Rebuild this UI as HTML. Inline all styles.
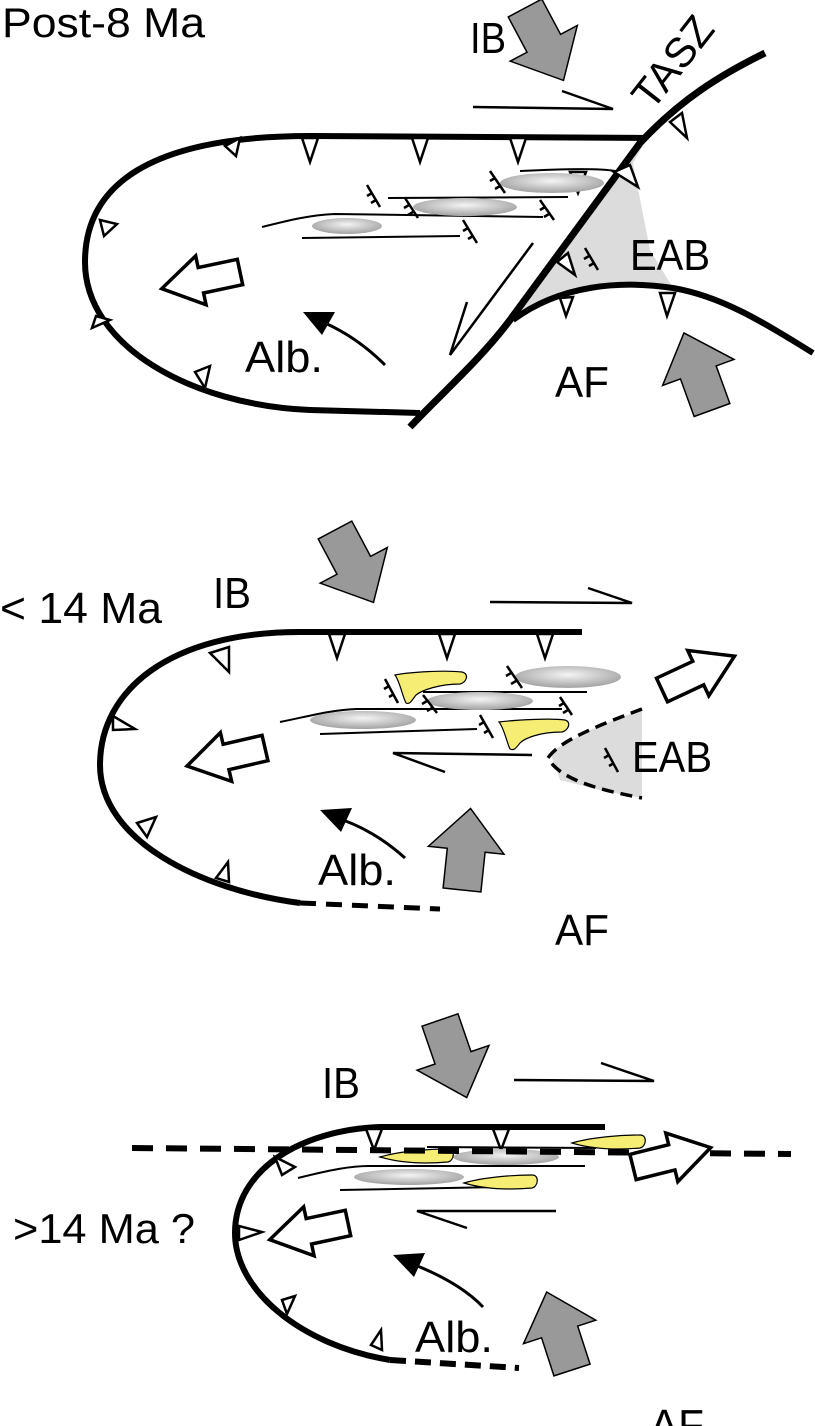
<!DOCTYPE html>
<html><head><meta charset="utf-8"><style>
html,body{margin:0;padding:0;background:#fff}
svg{display:block}
text{font-family:"Liberation Sans",sans-serif;fill:#000}
</style></head><body>
<svg width="815" height="1426" viewBox="0 0 815 1426" xmlns="http://www.w3.org/2000/svg">
<defs>
<radialGradient id="eg" cx="50%" cy="40%" r="55%"><stop offset="0" stop-color="#f4f4f4"/><stop offset="1" stop-color="#a8a8a8"/></radialGradient>
<polygon id="ga" points="0,-19 40,-19 40,-38 82,0 40,38 40,19 0,19" fill="#999" stroke="#000" stroke-width="1.5"/>
<polygon id="ha" points="0,-13 40,-13 40,-25 80,0 40,25 40,13 0,13" fill="#fff" stroke="#000" stroke-width="3.5"/>
<path id="yb" d="M0,2 C20,-4 50,-6 68,-6 C76,-6 74,6 68,7 C45,9 20,8 0,2Z" fill="#f6ee74" stroke="#000" stroke-width="1.2"/>
</defs>

<!-- ================= TOP PANEL ================= -->
<text x="2" y="37" font-size="42" textLength="203" lengthAdjust="spacingAndGlyphs">Post-8 Ma</text>
<text x="470" y="53" font-size="44" textLength="36" lengthAdjust="spacingAndGlyphs">IB</text>
<text x="0" y="0" font-size="42" transform="translate(652,112) rotate(-52)">TASZ</text>

<polygon points="645,142 513,320 560,292 600,287 673,288 650,250 633,163" fill="#dcdcdc"/>
<path d="M647,138 L310,136 C150,136 85,185 85,262 C85,345 190,405 310,410 L420,413" fill="none" stroke="#000" stroke-width="6"/>
<path d="M410,427 C440,395 480,360 510,320 L640,143 C680,100 720,75 765,53" fill="none" stroke="#000" stroke-width="7"/>
<path d="M513,320 C560,285 620,280 673,288 C720,296 760,320 813,353" fill="none" stroke="#000" stroke-width="6"/>

<g fill="#fff" stroke="#000" stroke-width="2.5">
<polygon points="302,138 318,138 310,162"/><polygon points="412,138 428,138 420,162"/><polygon points="510,138 526,138 518,162"/>
<polygon points="570,172 586,172 578,193"/>
<polygon points="225,146 236,156 240,138"/><polygon points="100,220 117,224 104,236"/><polygon points="110,320 96,316 92,328"/>
<polygon points="195,372 210,366 205,388"/>
<polygon points="614,172 630,165 638,187"/><polygon points="670,122 682,113 687,138"/>
<polygon points="557,262 568,253 575,275"/><polygon points="560,298 573,297 566,316"/><polygon points="660,293 675,293 667,316"/>
</g>
<g fill="none" stroke="#000" stroke-width="2">
<path d="M262,227 C290,220 310,215 335,214 L543,217"/>
<path d="M302,238 L460,236"/>
<path d="M388,198 L568,197"/>
<path d="M520,171 C560,169 600,168 615,171"/>
</g>
<ellipse cx="347" cy="226" rx="35" ry="8" fill="url(#eg)"/>
<ellipse cx="465" cy="207" rx="52" ry="9" fill="url(#eg)"/>
<ellipse cx="552" cy="183" rx="52" ry="10" fill="url(#eg)"/>
<g stroke="#000" stroke-width="2.5" fill="none">
<path d="M367,185 L380,207 M372,193 l-5,3 M376,200 l-5,3"/>
<path d="M405,198 L418,218 M409,205 l-5,3 M413,212 l-5,3"/>
<path d="M490,171 L505,193 M495,178 l-5,3 M500,186 l-5,3"/>
<path d="M540,200 L554,220 M545,207 l-5,3 M549,214 l-5,3"/>
<path d="M463,220 L477,243 M468,228 l-5,3 M473,236 l-5,3"/>
<path d="M585,248 L598,270 M589,256 l-5,3 M594,263 l-5,3"/>
</g>
<g stroke="#000" stroke-width="2.5" fill="none">
<path d="M473,107 L613,109 L562,91"/>
<path d="M533,243 L450,355 L467,302"/>
</g>
<text x="630" y="270" font-size="44" textLength="80" lengthAdjust="spacingAndGlyphs">EAB</text>
<text x="245" y="372" font-size="44" textLength="78" lengthAdjust="spacingAndGlyphs">Alb.</text>
<text x="555" y="397" font-size="44" textLength="54" lengthAdjust="spacingAndGlyphs">AF</text>
<path d="M385,365 C365,345 345,332 325,323" fill="none" stroke="#000" stroke-width="3"/>
<polygon points="303,312 335,312 322,335" fill="#000"/>
<use href="#ga" transform="translate(525,8) rotate(62)"/>
<use href="#ga" transform="translate(712,410) rotate(-110)"/>
<use href="#ha" transform="translate(240,272) rotate(168)"/>

<!-- ================= MIDDLE PANEL ================= -->
<text x="0" y="623" font-size="44" textLength="162" lengthAdjust="spacingAndGlyphs">&lt; 14 Ma</text>
<text x="213" y="608" font-size="44" textLength="38" lengthAdjust="spacingAndGlyphs">IB</text>
<polygon points="642,709 590,730 550,752 560,780 600,790 642,798" fill="#dcdcdc"/>
<path d="M642,709 C600,725 560,740 548,758 C560,780 600,790 642,798" fill="none" stroke="#000" stroke-width="3.5" stroke-dasharray="12,7"/>
<path d="M582,632 L300,632 C170,632 100,690 100,765 C100,840 200,890 300,903" fill="none" stroke="#000" stroke-width="6"/>
<path d="M300,903 L440,909" fill="none" stroke="#000" stroke-width="5" stroke-dasharray="16,10"/>
<g fill="#fff" stroke="#000" stroke-width="2.5">
<polygon points="329,634 345,634 337,658"/><polygon points="439,634 455,634 447,658"/><polygon points="537,634 553,634 545,658"/>
<polygon points="210,653 229,647 229,672"/><polygon points="113,716 113,730 135,729"/>
<polygon points="137,823 156,817 147,837"/><polygon points="216,878 228,862 229,882"/>
</g>
<g fill="none" stroke="#000" stroke-width="2">
<path d="M280,722 C310,716 330,710 357,709 L562,709"/>
<path d="M320,734 L477,729"/>
<path d="M423,692 L587,692"/>
</g>
<ellipse cx="363" cy="720" rx="53" ry="9" fill="url(#eg)"/>
<ellipse cx="480" cy="701" rx="53" ry="9" fill="url(#eg)"/>
<ellipse cx="568" cy="677" rx="53" ry="11" fill="url(#eg)"/>
<path d="M395,675 C410,672 445,670 462,672 C470,674 466,683 460,684 C440,684 422,690 416,695 C412,700 410,705 406,703 C402,695 400,682 395,675Z" fill="#f6ee74" stroke="#000" stroke-width="1.2"/>
<path d="M499,722 C515,720 550,718 565,720 C572,722 568,731 562,732 C540,732 525,738 520,743 C516,748 514,751 510,749 C506,740 504,728 499,722Z" fill="#f6ee74" stroke="#000" stroke-width="1.2"/>
<g stroke="#000" stroke-width="2.5" fill="none">
<path d="M385,679 L398,703 M389,686 l-5,3 M394,694 l-5,3"/>
<path d="M423,695 L437,713 M427,701 l-5,3 M432,708 l-5,3"/>
<path d="M507,666 L522,688 M511,673 l-5,3 M516,681 l-5,3"/>
<path d="M560,697 L572,715 M564,703 l-5,3 M568,710 l-5,3"/>
<path d="M480,715 L493,738 M484,722 l-5,3 M489,730 l-5,3"/>
<path d="M605,748 L618,772 M609,755 l-5,3 M614,763 l-5,3"/>
</g>
<g stroke="#000" stroke-width="2.5" fill="none">
<path d="M490,602 L632,603 L588,588"/>
<path d="M532,755 L393,753 L445,772"/>
</g>
<text x="632" y="772" font-size="44" textLength="80" lengthAdjust="spacingAndGlyphs">EAB</text>
<text x="318" y="885" font-size="44" textLength="78" lengthAdjust="spacingAndGlyphs">Alb.</text>
<text x="555" y="945" font-size="44" textLength="54" lengthAdjust="spacingAndGlyphs">AF</text>
<path d="M405,858 C385,840 365,828 343,820" fill="none" stroke="#000" stroke-width="3"/>
<polygon points="320,810 352,808 341,832" fill="#000"/>
<use href="#ga" transform="translate(335,530) rotate(62)"/>
<use href="#ga" transform="translate(462,890) rotate(-84)"/>
<use href="#ha" transform="translate(265,748) rotate(167)"/>
<use href="#ha" transform="translate(662,690) rotate(-25)"/>

<!-- ================= BOTTOM PANEL ================= -->
<text x="13" y="1243" font-size="42" textLength="182" lengthAdjust="spacingAndGlyphs">&gt;14 Ma ?</text>
<text x="322" y="1098" font-size="44" textLength="38" lengthAdjust="spacingAndGlyphs">IB</text>
<path d="M605,1127 L380,1127 C300,1130 235,1170 235,1233 C235,1290 300,1345 390,1360" fill="none" stroke="#000" stroke-width="6"/>
<path d="M390,1360 L519,1368" fill="none" stroke="#000" stroke-width="6" stroke-dasharray="16,9"/>
<g fill="#fff" stroke="#000" stroke-width="2.5">
<polygon points="366,1129 382,1129 374,1150"/><polygon points="493,1129 509,1129 501,1150"/>
<polygon points="275,1157 282,1175 295,1167"/><polygon points="239,1226 239,1240 262,1232"/>
<polygon points="282,1300 295,1296 287,1314"/><polygon points="371,1345 381,1330 382,1350"/>
</g>
<g fill="none" stroke="#000" stroke-width="2">
<path d="M427,1147 L596,1148"/>
<path d="M298,1178 C330,1170 350,1166 369,1166 L585,1166"/>
<path d="M340,1190 L501,1187"/>
</g>
<ellipse cx="506" cy="1157" rx="53" ry="8" fill="url(#eg)"/>
<ellipse cx="409" cy="1177" rx="55" ry="8" fill="url(#eg)"/>
<use href="#yb" transform="translate(380,1155)"/>
<use href="#yb" transform="translate(464,1181)"/>
<use href="#yb" transform="translate(572,1141)"/>
<path d="M132,1148 L791,1154" fill="none" stroke="#000" stroke-width="6" stroke-dasharray="21,13"/>
<g stroke="#000" stroke-width="2.5" fill="none">
<path d="M514,1080 L654,1081 L601,1063"/>
<path d="M556,1211 L417,1211 L467,1228"/>
</g>
<text x="415" y="1352" font-size="44" textLength="78" lengthAdjust="spacingAndGlyphs">Alb.</text>
<text x="650" y="1440" font-size="44" textLength="54" lengthAdjust="spacingAndGlyphs">AF</text>
<path d="M483,1307 C465,1288 440,1275 415,1265" fill="none" stroke="#000" stroke-width="3"/>
<polygon points="393,1255 425,1253 414,1277" fill="#000"/>
<use href="#ga" transform="translate(440,1020) rotate(71)"/>
<use href="#ga" transform="translate(572,1370) rotate(-108)"/>
<use href="#ha" transform="translate(348,1223) rotate(168)"/>
<use href="#ha" transform="translate(633,1167) rotate(-14)"/>
</svg>
</body></html>
